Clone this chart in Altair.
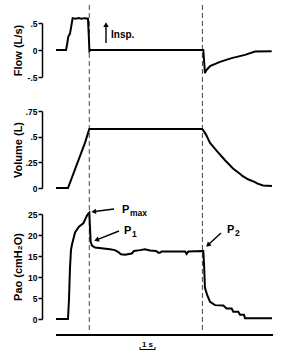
import math
import altair as alt
import pandas as pd

FONT = "Liberation Sans"

# ---- data (time in s) ----
flow_t = [0, 0.67, 0.75, 0.82, 0.93, 1.11, 1.3, 1.5, 1.7, 1.9, 2.13, 2.18, 2.23, 2.3, 9.82, 9.93, 10.0, 10.27, 10.93, 11.71, 12.6, 13.27, 14.38]
flow_v = [0, 0, 0.12, 0.25, 0.3, 0.59, 0.58, 0.59, 0.58, 0.59, 0.58, 0.3, -0.02, 0, 0, -0.43, -0.38, -0.3, -0.22, -0.15, -0.09, -0.03, -0.025]

vol_t = [0, 0.8, 1.93, 2.22, 9.75, 10.0, 10.27, 10.73, 11.27, 11.8, 12.3, 12.4, 12.8, 13.3, 13.4, 13.8, 14.4]
vol_v = [0, 0, 0.44, 0.575, 0.575, 0.52, 0.44, 0.36, 0.27, 0.19, 0.135, 0.12, 0.085, 0.055, 0.045, 0.025, 0.02]

pao_t = [0, 0.8, 0.87, 0.93, 1.0, 1.07, 1.27, 1.53, 1.82, 2.09, 2.22, 2.31, 2.4, 2.6, 3.6, 3.93, 4.13, 4.33, 4.6, 5.05, 5.2, 5.6, 5.93, 6.27, 6.67, 6.82, 6.93, 7.05, 8.6, 8.71, 8.82, 9.82, 9.87, 9.93, 10.07, 10.27, 10.6, 11.15, 11.38, 11.71, 11.82, 12.15, 12.27, 12.53, 12.6, 14.4]
pao_v = [0, 0, 5, 12, 16.5, 17.8, 20.6, 22.0, 22.8, 24.8, 25.3, 18.4, 17.5, 17.0, 16.6, 16.4, 16.0, 15.4, 15.3, 15.6, 16.2, 16.4, 16.6, 16.3, 16.2, 15.8, 15.8, 16.1, 16.1, 15.5, 16.1, 16.2, 13.0, 7.4, 5.8, 4.1, 3.3, 3.2, 2.5, 2.5, 1.75, 1.75, 1.0, 1.0, 0.2, 0.2]

flow_ticks = [-0.5, 0, 0.5]
vol_ticks = [0, 0.25, 0.5, 0.75]
pao_ticks = [0, 5, 10, 15, 20, 25]
event_t = [2.22, 9.76]

LEFT = 42
xs = alt.Scale(domain=[0, 14.4], range=[14, 230])
label_expr = "datum.value == 0 ? '0' : (abs(datum.value) < 1 ? (datum.value < 0 ? '-' : '') + substring(toString(abs(datum.value)), 1) : toString(datum.value))"


def trace(t, v, domain, rng, ticks, title):
    df = pd.DataFrame({"t": t, "v": v})
    return alt.Chart(df).mark_line(color="black", strokeWidth=2, clip=False).encode(
        x=alt.X("t:Q", scale=xs, axis=None),
        y=alt.Y("v:Q", scale=alt.Scale(domain=domain, range=rng),
                axis=alt.Axis(orient="left", values=ticks, title=title, labelExpr=label_expr,
                              titleX=-24, titleBaseline="middle")),
    )


flow = trace(flow_t, flow_v, [-0.5, 0.5], [77, 23], flow_ticks, "Flow  (L/s)")
vol = trace(vol_t, vol_v, [0, 0.75], [188, 111], vol_ticks, "Volume  (L)")
pao = trace(pao_t, pao_v, [0, 25], [319, 214], pao_ticks, "Pao  (cmH₂O)")

one = pd.DataFrame({"a": [0]})

events = alt.Chart(pd.DataFrame({"t": event_t})).mark_rule(
    color="#444", strokeWidth=1, strokeDash=[5, 3]
).encode(x=alt.X("t:Q", scale=xs, axis=None), y=alt.value(5), y2=alt.value(330))

base_line = alt.Chart(pd.DataFrame({"t0": [0], "t1": [14.47]})).mark_rule(
    color="black", strokeWidth=2
).encode(x=alt.X("t0:Q", scale=xs, axis=None), x2="t1:Q", y=alt.value(335))

bar = alt.Chart(pd.DataFrame({"t0": [5.6], "t1": [6.6]})).mark_rule(
    color="black", strokeWidth=1
).encode(x=alt.X("t0:Q", scale=xs, axis=None), x2="t1:Q", y=alt.value(349.5))
bar_ends = alt.Chart(pd.DataFrame({"t": [5.6, 6.6]})).mark_rule(
    color="black", strokeWidth=1
).encode(x=alt.X("t:Q", scale=xs, axis=None), y=alt.value(347), y2=alt.value(350))
bar_text = alt.Chart(pd.DataFrame({"t": [6.1]})).mark_text(
    text="1 s", font=FONT, fontWeight="bold", fontSize=8, baseline="alphabetic"
).encode(x=alt.X("t:Q", scale=xs, axis=None), y=alt.value(346.5))


def txt(s, x, y, size, align="left"):
    return alt.Chart(one).mark_text(
        text=s, font=FONT, fontWeight="bold", fontSize=size, align=align, baseline="alphabetic", color="black"
    ).encode(x=alt.value(x - LEFT), y=alt.value(y))


def arrow(x0, y0, x1, y1, head=30):
    dx, dy = x1 - x0, y1 - y0
    L = math.hypot(dx, dy)
    ux, uy = dx / L, dy / L
    hx, hy = x1 - ux * 3.5, y1 - uy * 3.5
    ang = math.degrees(math.atan2(dx, -dy)) % 360
    shaft = alt.Chart(one).mark_rule(color="black", strokeWidth=1.4).encode(
        x=alt.value(x0 - LEFT), y=alt.value(y0), x2=alt.value(hx - LEFT), y2=alt.value(hy)
    )
    tip = alt.Chart(one).mark_point(
        shape="triangle", filled=True, color="black", size=head, angle=ang, opacity=1
    ).encode(x=alt.value(hx - LEFT), y=alt.value(hy))
    return [shaft, tip]


annots = []
annots += arrow(106, 43, 106, 22)
annots.append(txt("Insp.", 111, 38, 10))
annots += arrow(114, 209, 91, 212)
annots.append(txt("P", 122, 213, 11))
annots.append(txt("max", 130, 216, 8.5))
annots += arrow(119, 231, 94, 241)
annots.append(txt("P", 124, 234, 11))
annots.append(txt("1", 132, 237, 8.5))
annots += arrow(221, 233, 206, 247)
annots.append(txt("P", 227, 233, 11))
annots.append(txt("2", 235, 236, 8.5))

chart = alt.layer(
    events, flow, vol, pao, base_line, bar, bar_ends, bar_text, *annots
).resolve_scale(y="independent").properties(
    width=248, height=356,
    padding={"left": LEFT, "top": 0, "right": 0, "bottom": 0},
    autosize="none",
    background="white",
).configure_view(stroke=None).configure_axis(
    domainColor="black", domainWidth=1.5, tickColor="black", tickWidth=1.5, tickSize=4,
    labelFont=FONT, labelFontWeight="bold", labelFontSize=8.5, labelColor="black", labelPadding=1,
    titleFont=FONT, titleFontWeight="bold", titleFontSize=11, titleColor="black", grid=False,
)

chart.save("out.html", embed_options={"renderer": "svg", "actions": False})
